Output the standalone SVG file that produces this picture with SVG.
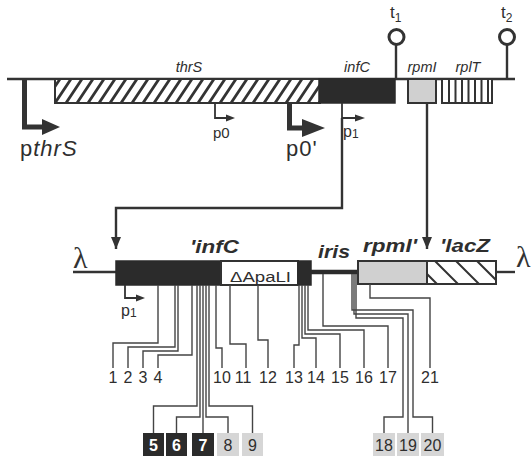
<svg xmlns="http://www.w3.org/2000/svg" width="532" height="456" viewBox="0 0 532 456">
<defs>
<style>
.ln{stroke:#333;fill:none;stroke-width:2.4}
.thin{stroke:#444;fill:none;stroke-width:1.4}
.t{font-family:"Liberation Sans",Arial,sans-serif;fill:#2e2e2e}
.gi{font-style:italic;font-size:14.5px;text-anchor:middle}
.bi{font-style:italic;font-weight:bold;font-size:18px}
.num{font-size:16px;text-anchor:middle}
.bn{font-size:16px;font-weight:bold;text-anchor:middle}
.dark{fill:#2b2b2b;stroke:#2b2b2b;stroke-width:1.5}
.gray{fill:#d0d0d0;stroke:#333;stroke-width:2}
.white{fill:#fff;stroke:#333;stroke-width:2}
.lam{font-family:"Liberation Serif","Times New Roman",serif;font-size:30px;fill:#333}
.ah{fill:#333}
</style>
<clipPath id="cThr"><rect x="55" y="79" width="265" height="24"/></clipPath>
<clipPath id="cLac"><rect x="427" y="261" width="69" height="23"/></clipPath>
<marker id="arr" viewBox="0 0 12 10" refX="12" refY="5" markerWidth="12" markerHeight="10" markerUnits="userSpaceOnUse" orient="auto">
<path d="M0 0 L12 5 L0 10 z" fill="#333"/>
</marker>
</defs>
<rect width="532" height="456" fill="#fff"/>

<g id="chromosome">
<line x1="7" y1="79" x2="515" y2="79" class="ln"/>
</g>

<g id="thrS">
<rect x="55" y="79" width="265" height="24" class="white"/>
<path clip-path="url(#cThr)" stroke="#333" stroke-width="2.8" fill="none" d="M44 103L60 79M55 103L71 79M66 103L82 79M77 103L93 79M88 103L104 79M99 103L115 79M110 103L126 79M121 103L137 79M132 103L148 79M143 103L159 79M154 103L170 79M165 103L181 79M176 103L192 79M187 103L203 79M198 103L214 79M209 103L225 79M220 103L236 79M231 103L247 79M242 103L258 79M253 103L269 79M264 103L280 79M275 103L291 79M286 103L302 79M297 103L313 79M308 103L324 79M319 103L335 79"/>
<rect x="55" y="79" width="265" height="24" fill="none" stroke="#333" stroke-width="2"/>
<text x="189" y="72" class="t gi">thrS</text>
</g>

<g id="infC">
<rect x="319" y="79" width="76" height="24" class="dark"/>
<text x="357" y="72" class="t gi">infC</text>
</g>

<g id="rpmI">
<rect x="408" y="79" width="28" height="24" class="gray"/>
<text x="422" y="72" class="t gi">rpmI</text>
</g>

<g id="rplT">
<rect x="442" y="79" width="50" height="24" class="white"/>
<path stroke="#333" stroke-width="2" d="M449 79V103M455.5 79V103M462 79V103M468.5 79V103M475 79V103M481.5 79V103M488 79V103"/>
<text x="468" y="72" class="t gi">rplT</text>
</g>

<g id="t1">
<line x1="396" y1="79" x2="396" y2="45" class="ln"/>
<circle cx="396.5" cy="37" r="7.5" fill="#fff" stroke="#333" stroke-width="3"/>
<text x="390" y="18" class="t" font-size="17">t<tspan font-size="12" dy="4">1</tspan></text>
</g>

<g id="t2">
<line x1="507" y1="79" x2="507" y2="45" class="ln"/>
<circle cx="507" cy="37" r="7.5" fill="#fff" stroke="#333" stroke-width="3"/>
<text x="501" y="18" class="t" font-size="17">t<tspan font-size="12" dy="4">2</tspan></text>
</g>

<g id="pthrS">
<path d="M24.5 79V127H44" fill="none" stroke="#333" stroke-width="5"/>
<polygon points="42,119 60,127 42,135" class="ah"/>
<text x="20" y="156" class="t" font-size="22" letter-spacing="1">p<tspan font-style="italic">thrS</tspan></text>
</g>

<g id="p0">
<path d="M215 103V118H228" fill="none" stroke="#333" stroke-width="1.8"/>
<polygon points="226,114.5 235,118 226,121.5" class="ah"/>
<text x="213" y="138" class="t" font-size="15">p0</text>
</g>

<g id="p0prime">
<path d="M289.5 103V128H305" fill="none" stroke="#333" stroke-width="5"/>
<polygon points="302,119 325,128 302,137" class="ah"/>
<text x="286" y="156" class="t" font-size="22" letter-spacing="1">p0'</text>
</g>

<g id="p1top">
<path d="M342 103V118H357" fill="none" stroke="#333" stroke-width="1.8"/>
<polygon points="355,114.5 365,118 355,121.5" class="ah"/>
<text x="343" y="137" class="t" font-size="16">p<tspan font-size="12" dy="1">1</tspan></text>
</g>

<g id="connectors">
<path d="M342 118V208H116V249" class="ln" stroke-width="2" marker-end="url(#arr)"/>
<path d="M427 103V249" class="ln" stroke-width="2" marker-end="url(#arr)"/>
</g>

<g id="lambdaL">
<line x1="73" y1="272" x2="116" y2="272" class="ln"/>
<text x="73" y="268" class="lam">λ</text>
</g>

<g id="infCprime">
<rect x="116" y="261" width="105" height="24" class="dark"/>
<text x="190" y="253" class="t bi" textLength="49" lengthAdjust="spacingAndGlyphs">'infC</text>
</g>

<g id="dApaLI">
<rect x="221" y="261" width="77" height="24" class="white"/>
<text x="230" y="282" class="t" font-size="14" textLength="61" lengthAdjust="spacingAndGlyphs">ΔApaLI</text>
</g>

<g id="iris">
<rect x="298" y="261" width="13" height="24" class="dark"/>
<line x1="311" y1="272" x2="358" y2="272" stroke="#2b2b2b" stroke-width="4.5"/>
<text x="318" y="258" class="t bi" textLength="32" lengthAdjust="spacingAndGlyphs">iris</text>
</g>

<g id="rpmIprime">
<rect x="358" y="261" width="69" height="23" class="gray"/>
<text x="363" y="252" class="t bi" textLength="54" lengthAdjust="spacingAndGlyphs">rpmI'</text>
</g>

<g id="lacZ">
<rect x="427" y="261" width="69" height="23" class="white"/>
<path clip-path="url(#cLac)" stroke="#333" stroke-width="2" d="M414 261L437 284M435 261L458 284M456 261L479 284M477 261L500 284"/>
<rect x="427" y="261" width="69" height="23" fill="none" stroke="#333" stroke-width="2"/>
<text x="440" y="252" class="t bi" textLength="50" lengthAdjust="spacingAndGlyphs">'lacZ</text>
</g>

<g id="lambdaR">
<line x1="496" y1="272" x2="515" y2="272" class="ln"/>
<text x="516" y="267" class="lam">λ</text>
</g>

<g id="p1low">
<path d="M125 285V298H138" fill="none" stroke="#333" stroke-width="1.8"/>
<polygon points="136,294.5 145,298 136,301.5" class="ah"/>
<text x="121" y="316" class="t" font-size="16">p<tspan font-size="12" dy="1">1</tspan></text>
</g>

<g id="leaders" class="thin">
<path d="M158 285V343H113V368"/>
<path d="M175 285V347H128V368"/>
<path d="M178 285V351H143V368"/>
<path d="M192 285V355H158V368"/>
<path d="M197 285V406H153.5V433"/>
<path d="M200 285V417H176.5V433"/>
<path d="M203 285V433"/>
<path d="M206 285V417H228V433"/>
<path d="M209 285V406H252.5V433"/>
<path d="M216 285V348H222V368"/>
<path d="M230 285V344H246V368"/>
<path d="M258 285V340H268V368"/>
<path d="M299 285V345H294V368"/>
<path d="M302 285V338H316V368"/>
<path d="M305 285V334H340V368"/>
<path d="M308 285V330H364V368"/>
<path d="M323 274V326H388V368"/>
<path d="M352 274V310H413V417H432.5V433"/>
<path d="M354 274V314H408V433"/>
<path d="M356 274V318H403V417H384V433"/>
<path d="M370 284V298H430V368"/>
</g>

<g id="labels" class="t num">
<text x="113" y="383">1</text>
<text x="128" y="383">2</text>
<text x="143" y="383">3</text>
<text x="158" y="383">4</text>
<text x="222" y="383">10</text>
<text x="243" y="383">11</text>
<text x="268" y="383">12</text>
<text x="294" y="383">13</text>
<text x="316" y="383">14</text>
<text x="340" y="383">15</text>
<text x="364" y="383">16</text>
<text x="388" y="383">17</text>
<text x="430" y="383">21</text>
</g>

<g id="boxes">
<g id="b5"><rect x="143" y="433" width="21" height="23" fill="#2b2b2b"/><text x="153.5" y="451" class="t bn" style="fill:#fff">5</text></g>
<g id="b6"><rect x="166" y="433" width="21" height="23" fill="#2b2b2b"/><text x="176.5" y="451" class="t bn" style="fill:#fff">6</text></g>
<g id="b7"><rect x="192" y="433" width="22" height="23" fill="#2b2b2b"/><text x="203" y="451" class="t bn" style="fill:#fff">7</text></g>
<g id="b8"><rect x="217" y="433" width="22" height="23" fill="#d6d6d6"/><text x="228" y="451" class="t num">8</text></g>
<g id="b9"><rect x="242" y="433" width="21" height="23" fill="#d6d6d6"/><text x="252.5" y="451" class="t num">9</text></g>
<g id="b18"><rect x="373" y="433" width="22" height="23" fill="#d6d6d6"/><text x="384" y="451" class="t num">18</text></g>
<g id="b19"><rect x="397" y="433" width="22" height="23" fill="#d6d6d6"/><text x="408" y="451" class="t num">19</text></g>
<g id="b20"><rect x="421" y="433" width="23" height="23" fill="#d6d6d6"/><text x="432.5" y="451" class="t num">20</text></g>
</g>
</svg>
